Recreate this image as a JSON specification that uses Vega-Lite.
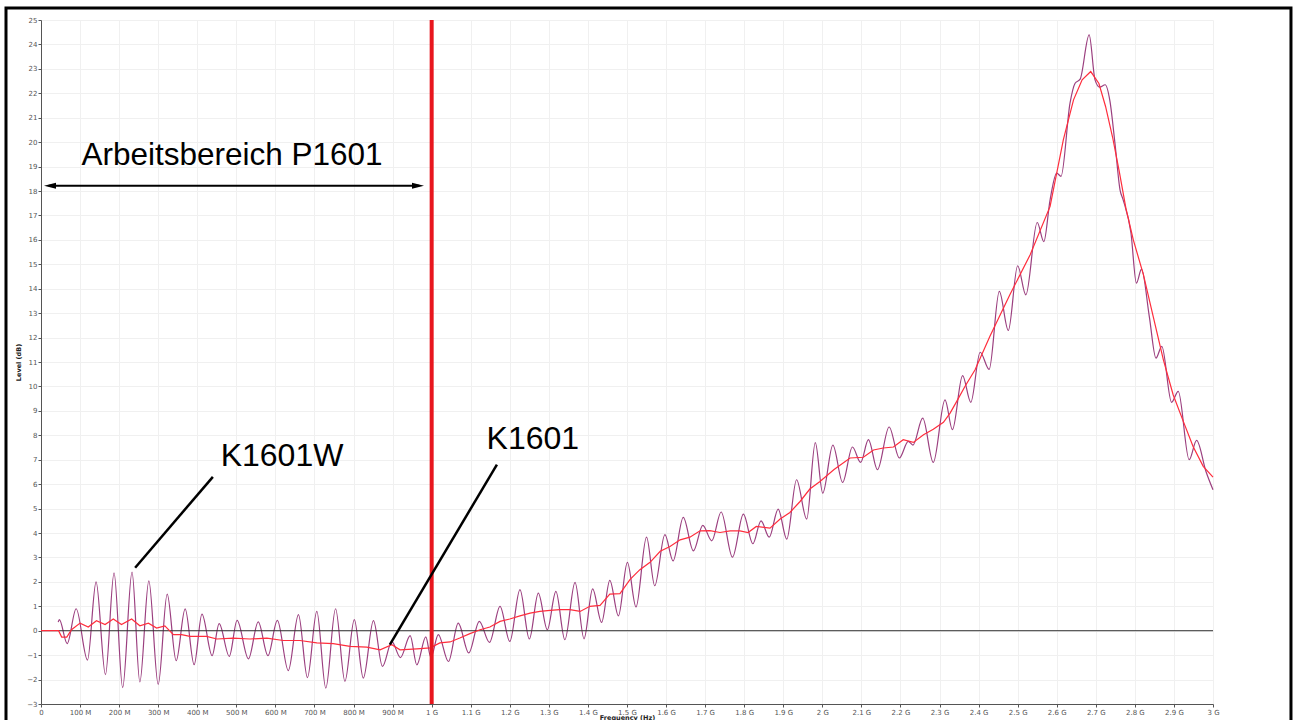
{
  "$schema": "https://vega.github.io/schema/vega-lite/v6.json",
  "width": 1172,
  "height": 684,
  "autosize": {"type": "none"},
  "padding": {"left": 41, "top": 20, "right": 80, "bottom": 16},
  "background": "white",
  "config": {
    "view": {"stroke": null},
    "axis": {
      "labelFont": "DejaVu Sans",
      "labelFontSize": 7,
      "labelColor": "#555555",
      "labelOverlap": false,
      "titleFont": "DejaVu Sans",
      "titleFontSize": 6.5,
      "titleFontWeight": "bold",
      "titleColor": "#222222",
      "domainColor": "#555555",
      "domainWidth": 1,
      "tickColor": "#555555",
      "tickSize": 3,
      "labelPadding": 1,
      "gridColor": "#f0f0f0",
      "gridWidth": 1
    }
  },
  "datasets": {
    "one": [{}],
    "k1601w": [
      {"f": 44, "level": 0.35}, {"f": 47, "level": 0.45}, {"f": 67, "level": -0.53}, {"f": 90, "level": 0.9},
      {"f": 119, "level": -1.2}, {"f": 141, "level": 2.0}, {"f": 165, "level": -1.8}, {"f": 187, "level": 2.37},
      {"f": 209, "level": -2.33}, {"f": 233, "level": 2.4}, {"f": 253, "level": -2.1}, {"f": 276, "level": 2.04},
      {"f": 300, "level": -2.2}, {"f": 323, "level": 1.5}, {"f": 346, "level": -1.23}, {"f": 369, "level": 0.89},
      {"f": 392, "level": -1.39}, {"f": 412, "level": 0.68}, {"f": 438, "level": -1.02}, {"f": 456, "level": 0.29},
      {"f": 482, "level": -1.05}, {"f": 502, "level": 0.42}, {"f": 531, "level": -1.15}, {"f": 556, "level": 0.36},
      {"f": 581, "level": -1.02}, {"f": 605, "level": 0.42}, {"f": 633, "level": -1.63}, {"f": 659, "level": 0.66},
      {"f": 682, "level": -1.92}, {"f": 706, "level": 0.79}, {"f": 729, "level": -2.35}, {"f": 754, "level": 0.9},
      {"f": 778, "level": -2.07}, {"f": 802, "level": 0.45}, {"f": 825, "level": -1.94}, {"f": 851, "level": 0.41},
      {"f": 874, "level": -1.46}, {"f": 898, "level": -0.45}, {"f": 920, "level": -1.1}, {"f": 945, "level": -0.2},
      {"f": 962, "level": -1.4}, {"f": 985, "level": -0.25}, {"f": 998, "level": -1.1}, {"f": 1017, "level": -0.16},
      {"f": 1043, "level": -1.26}, {"f": 1068, "level": 0.31}, {"f": 1095, "level": -0.91}, {"f": 1122, "level": 0.38},
      {"f": 1148, "level": -0.48}, {"f": 1175, "level": 1.0}, {"f": 1200, "level": -0.44}, {"f": 1226, "level": 1.68},
      {"f": 1250, "level": -0.34}, {"f": 1273, "level": 1.54}, {"f": 1296, "level": 0.04}, {"f": 1318, "level": 1.61},
      {"f": 1341, "level": -0.37}, {"f": 1367, "level": 1.98}, {"f": 1390, "level": -0.33}, {"f": 1412, "level": 1.71},
      {"f": 1435, "level": 0.34}, {"f": 1456, "level": 2.06}, {"f": 1478, "level": 0.61}, {"f": 1501, "level": 2.8},
      {"f": 1523, "level": 0.97}, {"f": 1550, "level": 3.83}, {"f": 1571, "level": 1.84}, {"f": 1597, "level": 3.93},
      {"f": 1618, "level": 2.86}, {"f": 1644, "level": 4.64}, {"f": 1670, "level": 3.27}, {"f": 1694, "level": 4.31},
      {"f": 1717, "level": 3.68}, {"f": 1741, "level": 4.86}, {"f": 1770, "level": 3.01}, {"f": 1798, "level": 4.77},
      {"f": 1822, "level": 3.56}, {"f": 1843, "level": 4.5}, {"f": 1864, "level": 3.83}, {"f": 1887, "level": 4.98},
      {"f": 1909, "level": 3.75}, {"f": 1934, "level": 6.18}, {"f": 1960, "level": 4.57}, {"f": 1982, "level": 7.7},
      {"f": 2001, "level": 5.63}, {"f": 2027, "level": 7.6}, {"f": 2052, "level": 6.07}, {"f": 2077, "level": 7.52},
      {"f": 2098, "level": 6.89}, {"f": 2118, "level": 7.82}, {"f": 2141, "level": 6.59}, {"f": 2171, "level": 8.34},
      {"f": 2197, "level": 7.07}, {"f": 2220, "level": 7.75}, {"f": 2232, "level": 7.6}, {"f": 2257, "level": 8.7},
      {"f": 2284, "level": 6.89}, {"f": 2314, "level": 9.45}, {"f": 2333, "level": 8.23}, {"f": 2359, "level": 10.44},
      {"f": 2380, "level": 9.35}, {"f": 2404, "level": 11.4}, {"f": 2427, "level": 10.7}, {"f": 2453, "level": 13.89},
      {"f": 2476, "level": 12.29}, {"f": 2500, "level": 14.94}, {"f": 2521, "level": 13.75}, {"f": 2550, "level": 16.71},
      {"f": 2567, "level": 15.93}, {"f": 2583, "level": 17.64}, {"f": 2600, "level": 18.73}, {"f": 2611, "level": 18.6},
      {"f": 2634, "level": 21.6}, {"f": 2647, "level": 22.41}, {"f": 2660, "level": 22.58}, {"f": 2683, "level": 24.39},
      {"f": 2698, "level": 22.55}, {"f": 2710, "level": 22.25}, {"f": 2724, "level": 22.35}, {"f": 2736, "level": 21.7},
      {"f": 2749, "level": 19.96}, {"f": 2762, "level": 18.05}, {"f": 2770, "level": 17.64}, {"f": 2790, "level": 16.28},
      {"f": 2804, "level": 14.23}, {"f": 2817, "level": 14.8}, {"f": 2837, "level": 12.86}, {"f": 2854, "level": 11.16},
      {"f": 2869, "level": 11.64}, {"f": 2894, "level": 9.35}, {"f": 2911, "level": 9.8}, {"f": 2939, "level": 7.0},
      {"f": 2958, "level": 7.79}, {"f": 2982, "level": 6.52}, {"f": 3000, "level": 5.77}
    ],
    "k1601": [
      {"f": 0, "level": 0}, {"f": 45, "level": 0}, {"f": 53, "level": -0.26}, {"f": 66, "level": -0.26},
      {"f": 78, "level": 0.04}, {"f": 100, "level": 0.31}, {"f": 121, "level": 0.15}, {"f": 142, "level": 0.41},
      {"f": 164, "level": 0.25}, {"f": 185, "level": 0.48}, {"f": 206, "level": 0.25}, {"f": 232, "level": 0.48},
      {"f": 253, "level": 0.2}, {"f": 275, "level": 0.31}, {"f": 296, "level": 0.11}, {"f": 317, "level": 0.2},
      {"f": 339, "level": -0.16}, {"f": 360, "level": -0.16}, {"f": 381, "level": -0.23}, {"f": 424, "level": -0.23},
      {"f": 450, "level": -0.34}, {"f": 492, "level": -0.3}, {"f": 535, "level": -0.34}, {"f": 578, "level": -0.3},
      {"f": 620, "level": -0.4}, {"f": 663, "level": -0.4}, {"f": 706, "level": -0.5}, {"f": 748, "level": -0.53},
      {"f": 791, "level": -0.64}, {"f": 834, "level": -0.67}, {"f": 868, "level": -0.78}, {"f": 898, "level": -0.57},
      {"f": 919, "level": -0.78}, {"f": 962, "level": -0.74}, {"f": 996, "level": -0.7}, {"f": 1021, "level": -0.5},
      {"f": 1047, "level": -0.46}, {"f": 1072, "level": -0.3}, {"f": 1098, "level": -0.12}, {"f": 1124, "level": 0.04},
      {"f": 1149, "level": 0.15}, {"f": 1175, "level": 0.38}, {"f": 1200, "level": 0.48}, {"f": 1226, "level": 0.61},
      {"f": 1252, "level": 0.72}, {"f": 1277, "level": 0.79}, {"f": 1303, "level": 0.83}, {"f": 1328, "level": 0.86},
      {"f": 1354, "level": 0.86}, {"f": 1380, "level": 0.79}, {"f": 1405, "level": 1.0}, {"f": 1431, "level": 1.04},
      {"f": 1456, "level": 1.5}, {"f": 1482, "level": 1.52}, {"f": 1508, "level": 2.1}, {"f": 1533, "level": 2.5},
      {"f": 1559, "level": 2.8}, {"f": 1585, "level": 3.25}, {"f": 1610, "level": 3.45}, {"f": 1636, "level": 3.72},
      {"f": 1661, "level": 3.83}, {"f": 1687, "level": 4.09}, {"f": 1712, "level": 4.1}, {"f": 1738, "level": 4.02},
      {"f": 1764, "level": 4.09}, {"f": 1789, "level": 4.09}, {"f": 1810, "level": 4.02}, {"f": 1831, "level": 4.27},
      {"f": 1866, "level": 4.2}, {"f": 1892, "level": 4.57}, {"f": 1917, "level": 4.84}, {"f": 1943, "level": 5.29},
      {"f": 1968, "level": 5.8}, {"f": 1994, "level": 6.11}, {"f": 2030, "level": 6.6}, {"f": 2071, "level": 7.07},
      {"f": 2105, "level": 7.1}, {"f": 2131, "level": 7.4}, {"f": 2156, "level": 7.48}, {"f": 2182, "level": 7.52},
      {"f": 2207, "level": 7.82}, {"f": 2233, "level": 7.71}, {"f": 2259, "level": 8.02}, {"f": 2284, "level": 8.25},
      {"f": 2310, "level": 8.53}, {"f": 2327, "level": 8.91}, {"f": 2344, "level": 9.39}, {"f": 2365, "level": 10.0},
      {"f": 2391, "level": 10.68}, {"f": 2429, "level": 12.05}, {"f": 2480, "level": 13.75}, {"f": 2532, "level": 15.39},
      {"f": 2583, "level": 17.37}, {"f": 2617, "level": 20.1}, {"f": 2643, "level": 21.73}, {"f": 2665, "level": 22.55},
      {"f": 2687, "level": 22.89}, {"f": 2708, "level": 22.4}, {"f": 2725, "level": 21.46}, {"f": 2743, "level": 20.2},
      {"f": 2760, "level": 18.8}, {"f": 2777, "level": 17.3}, {"f": 2796, "level": 16.0}, {"f": 2822, "level": 14.57},
      {"f": 2847, "level": 12.86}, {"f": 2873, "level": 11.09}, {"f": 2898, "level": 9.66}, {"f": 2924, "level": 8.57},
      {"f": 2949, "level": 7.54}, {"f": 2975, "level": 6.73}, {"f": 3000, "level": 6.29}
    ]
  },
  "layer": [
    {
      "data": {"name": "k1601w"},
      "mark": {"type": "line", "color": "#9b3f7f", "strokeWidth": 1.2, "interpolate": "monotone"},
      "encoding": {
        "x": {
          "field": "f", "type": "quantitative", "title": "Frequency (Hz)",
          "scale": {"domain": [0, 3000], "nice": false, "zero": false},
          "axis": {
            "values": [0,100,200,300,400,500,600,700,800,900,1000,1100,1200,1300,1400,1500,1600,1700,1800,1900,2000,2100,2200,2300,2400,2500,2600,2700,2800,2900,3000],
            "tickCount": 60,
            "labelExpr": "datum.value == 0 ? '0' : datum.value < 1000 ? datum.value + ' M' : (datum.value / 1000) + ' G'",
            "labelOverlap": false,
            "labelFlush": false,
            "titlePadding": -1,
            "titleFontSize": 6.5
          }
        },
        "y": {
          "field": "level", "type": "quantitative", "title": "Level (dB)",
          "scale": {"domain": [-3, 25], "nice": false, "zero": false},
          "axis": {
            "values": [-3,-2,-1,0,1,2,3,4,5,6,7,8,9,10,11,12,13,14,15,16,17,18,19,20,21,22,23,24,25],
            "tickCount": 60,
            "format": "d",
            "labelOverlap": false,
            "labelFlush": false,
            "titlePadding": 5
          }
        }
      }
    },
    {
      "data": {"name": "one"},
      "mark": {"type": "rule", "color": "#333333", "strokeWidth": 1},
      "encoding": {"x": {"datum": 0}, "x2": {"datum": 3000}, "y": {"datum": 0}}
    },
    {
      "data": {"name": "k1601"},
      "mark": {"type": "line", "color": "#ff2d3c", "strokeWidth": 1.2},
      "encoding": {
        "x": {"field": "f", "type": "quantitative"},
        "y": {"field": "level", "type": "quantitative"}
      }
    },
    {
      "data": {"name": "one"},
      "mark": {"type": "rule", "color": "#e8161e", "strokeWidth": 4},
      "encoding": {"x": {"datum": 1000}, "y": {"datum": -3}, "y2": {"datum": 25}}
    },
    {
      "data": {"name": "one"},
      "mark": {"type": "rule", "color": "black", "strokeWidth": 2.5},
      "encoding": {"x": {"datum": 440}, "y": {"datum": 6.3}, "x2": {"datum": 241}, "y2": {"datum": 2.58}}
    },
    {
      "data": {"name": "one"},
      "mark": {"type": "rule", "color": "black", "strokeWidth": 2.5},
      "encoding": {"x": {"datum": 1167}, "y": {"datum": 6.8}, "x2": {"datum": 893}, "y2": {"datum": -0.57}}
    },
    {
      "data": {"name": "one"},
      "mark": {"type": "rule", "color": "black", "strokeWidth": 2},
      "encoding": {"x": {"datum": 20}, "x2": {"datum": 968}, "y": {"datum": 18.22}}
    },
    {
      "data": {"name": "one"},
      "mark": {"type": "point", "shape": "M-1,0L1,-0.5L1,0.5Z", "filled": true, "color": "black", "size": 144, "opacity": 1},
      "encoding": {"x": {"datum": 23}, "y": {"datum": 18.22}}
    },
    {
      "data": {"name": "one"},
      "mark": {"type": "point", "shape": "M1,0L-1,-0.5L-1,0.5Z", "filled": true, "color": "black", "size": 144, "opacity": 1},
      "encoding": {"x": {"datum": 965}, "y": {"datum": 18.22}}
    },
    {
      "data": {"name": "one"},
      "mark": {"type": "text", "font": "Liberation Sans", "fontSize": 31.5, "color": "black", "align": "center", "baseline": "alphabetic"},
      "encoding": {"x": {"datum": 489}, "y": {"datum": 19.07}, "text": {"value": "Arbeitsbereich P1601"}}
    },
    {
      "data": {"name": "one"},
      "mark": {"type": "text", "font": "Liberation Sans", "fontSize": 32, "color": "black", "align": "center", "baseline": "alphabetic"},
      "encoding": {"x": {"datum": 617}, "y": {"datum": 6.75}, "text": {"value": "K1601W"}}
    },
    {
      "data": {"name": "one"},
      "mark": {"type": "text", "font": "Liberation Sans", "fontSize": 32, "color": "black", "align": "center", "baseline": "alphabetic"},
      "encoding": {"x": {"datum": 1259}, "y": {"datum": 7.45}, "text": {"value": "K1601"}}
    },
    {
      "data": {"name": "one"},
      "mark": {"type": "rect", "fillOpacity": 0, "stroke": "black", "strokeWidth": 3, "clip": false},
      "encoding": {"x": {"datum": -89.6}, "x2": {"datum": 3199.6}, "y": {"datum": 25.49}, "y2": {"datum": -3.74}}
    }
  ]
}
